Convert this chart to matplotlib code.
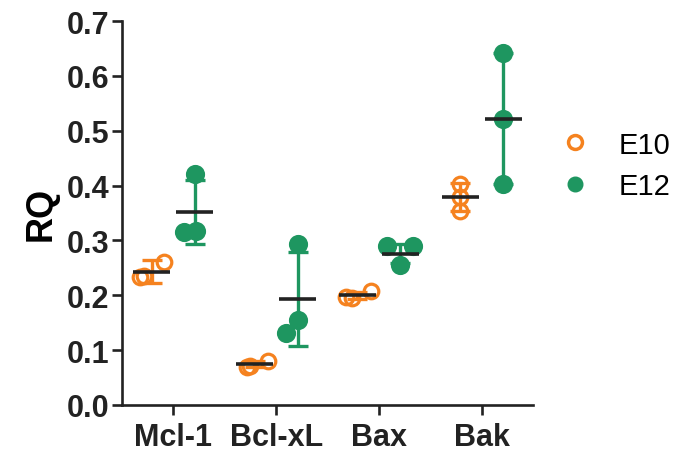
import numpy as np
import matplotlib
matplotlib.use("Agg")
import matplotlib.pyplot as plt
from matplotlib.lines import Line2D

plt.rcParams["font.family"] = ["Liberation Sans", "DejaVu Sans"]

genes = ["Mcl-1", "Bcl-xL", "Bax", "Bak"]
groups = ["E10", "E12"]

# individual replicate values
e10_points = [
    [0.233, 0.261, 0.236],
    [0.069, 0.080, 0.072],
    [0.197, 0.208, 0.195],
    [0.403, 0.354, 0.380],
]
e12_points = [
    [0.421, 0.315, 0.317],
    [0.293, 0.155, 0.131],
    [0.290, 0.290, 0.255],
    [0.642, 0.521, 0.403],
]

# mean and SD as drawn
e10_mean = [0.243, 0.075, 0.200, 0.379]
e10_sd = [0.021, 0.006, 0.006, 0.025]
e12_mean = [0.352, 0.193, 0.276, 0.522]
e12_sd = [0.058, 0.086, 0.018, 0.120]

# horizontal scatter of dots inside each column (category units)
e10_jitter = [[-0.11, 0.12, -0.08], [-0.07, 0.13, -0.04], [-0.11, 0.13, -0.05], [0, 0, 0]]
e12_jitter = [[0, -0.11, 0.01], [0, 0, -0.11], [-0.13, 0.12, 0], [0, 0, 0]]

orange = "#F5821F"
green = "#1E9660"

fig = plt.figure(figsize=(6.81, 4.6), dpi=100)
ax = fig.add_axes([122 / 681, 1 - 406 / 460, (533 - 122) / 681, (406 - 22) / 460])

x = np.arange(len(genes))
offset = 0.21
half = 0.18

series = [
    (e10_points, e10_mean, e10_sd, e10_jitter, -offset, orange, "none"),
    (e12_points, e12_mean, e12_sd, e12_jitter, offset, green, green),
]

for pts, means, sds, jit, off, col, face in series:
    for i in range(len(genes)):
        xs = x[i] + off + np.array(jit[i])
        ax.plot(xs, pts[i], "o", ms=10.5 if face == "none" else 11.5,
                mfc=face, mec=col, mew=2.3, ls="none", zorder=3)
    ax.errorbar(x + off, means, yerr=sds, fmt="none", ecolor=col,
                elinewidth=2.4, capsize=7, capthick=2.4, zorder=4)
    ax.hlines(means, x + off - half, x + off + half, color="#222222",
              lw=2.6, zorder=5)

ax.set_xlim(-0.5, 3.5)
ax.set_ylim(0, 0.7)
ax.set_xticks(x)
ax.set_xticklabels(genes)
ax.set_yticks(np.arange(0, 0.71, 0.1))
ax.set_yticklabels([f"{v:.1f}" for v in np.arange(0, 0.71, 0.1)])
ax.set_ylabel("RQ", fontsize=26, fontweight="bold", labelpad=6)

for s in ["top", "right"]:
    ax.spines[s].set_visible(False)
for s in ["left", "bottom"]:
    ax.spines[s].set_linewidth(1.9)
    ax.spines[s].set_color("#222222")
ax.tick_params(axis="both", length=7, width=1.9, color="#222222",
               labelsize=22, pad=2)
ax.tick_params(axis="x", pad=5)
for lab in ax.get_xticklabels() + ax.get_yticklabels():
    lab.set_fontweight("bold")
    lab.set_color("#222222")

handles = [
    Line2D([], [], marker="o", ls="none", ms=10, mfc="none", mec=orange, mew=2.5),
    Line2D([], [], marker="o", ls="none", ms=10.5, mfc=green, mec=green),
]
fig.legend(handles, groups, loc="upper left", bbox_to_anchor=(543 / 681, 1 - 117 / 460),
           frameon=False, fontsize=21, handlelength=1.2, handletextpad=0.9,
           labelspacing=0.45, borderpad=0)

fig.savefig("out.png", dpi=100)
